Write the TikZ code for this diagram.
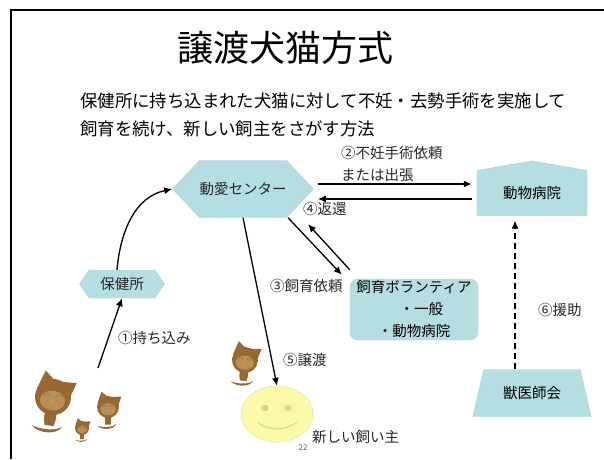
\documentclass[tikz,border=0pt]{standalone}
\usepackage{fontspec}
\setmainfont{Noto Sans CJK JP}
\usetikzlibrary{arrows.meta,positioning,shapes.geometric,shapes.symbols}

\definecolor{boxteal}{RGB}{181,222,227}
\definecolor{catbrown}{RGB}{152,104,50}
\definecolor{catface}{RGB}{186,142,86}
\definecolor{smileyellow}{RGB}{250,250,168}

\newcommand{\lbl}{\fontsize{14.5}{22}\selectfont}

\tikzset{
  cat/.pic={
    % tail, body, ears, head, face
    \fill[catbrown] (-0.95,-1.72) .. controls (-0.5,-2.15) and (0.55,-2.05) .. (0.75,-1.55)
      .. controls (0.45,-1.85) and (-0.4,-1.9) .. cycle;
    \fill[catbrown] (-0.3,-0.75) -- (0.3,-0.75) .. controls (0.35,-1.2) .. (0.25,-1.6) -- (-0.25,-1.6) .. controls (-0.35,-1.2) .. cycle;
    \fill[catbrown] (-0.95,0.35) -- (-0.6,1.4) -- (-0.05,0.95) -- cycle;
    \fill[catbrown] (0.35,0.9) -- (1.2,0.95) -- (0.95,0.15) -- cycle;
    \fill[catbrown] (0,0) circle (1);
    \fill[catface] (0,-0.2) ellipse (0.7 and 0.55);
    \draw[black!55,line width=0.5pt] (-0.55,0.0) arc (170:10:0.2);
    \draw[black!55,line width=0.5pt] (0.15,0.0) arc (170:10:0.2);
    \fill[orange!60!yellow] (0,-0.25) circle (0.06);
  }
}

\begin{document}
\begin{tikzpicture}[
  x=1pt, y=1pt,
  label/.style={font=\lbl, text=black!85, inner sep=0pt, anchor=west},
  station/.style={
    signal,
    signal to=west and east,
    fill=boxteal,
    draw=boxteal!85!gray,
    text=black!85,
    font=\lbl,
    inner sep=0pt
  },
  line/.style={-{Latex[length=8pt,width=7pt]}, line width=1.3pt}
]
\useasboundingbox (0,0) rectangle (604,459);

% frame
\draw[line width=1.6pt] (11,0) -- (11,449) -- (604,449);

% title and description
\node[font=\fontsize{36}{40}\selectfont, inner sep=0pt] (title) at (285,411) {譲渡犬猫方式};
\node[font=\fontsize{17.4}{28}\selectfont, align=left, anchor=north west, inner sep=0pt] (desc) at (80,366)
{保健所に持ち込まれた犬猫に対して不妊・去勢手術を実施して\\飼育を続け、新しい飼主をさがす方法};

% main blocks
\node[station, signal pointer angle=93, minimum width=137pt, minimum height=57pt] (center) at (243,270) {動愛センター};
\node[station, signal pointer angle=111, minimum width=85pt, minimum height=28pt] (hoken) at (122,175) {保健所};
\node[signal, signal to=north, signal pointer angle=160, fill=boxteal, draw=boxteal!85!gray,
  minimum width=110pt, minimum height=50pt, font=\lbl, inner sep=0pt] (hosp) at (532,266) {動物病院};
\node[draw=boxteal!85!gray, fill=boxteal, rounded corners=8pt, minimum width=128pt, minimum height=61pt,
  font=\lbl, align=center, inner sep=0pt] (vol) at (414,149.5)
{飼育ボランティア\\\hspace*{1em}・一般\\・動物病院};
\node[trapezium, trapezium angle=64, trapezium stretches=true, fill=boxteal, draw=boxteal!85!gray,
  minimum width=119pt, minimum height=47pt, font=\lbl, inner sep=0pt] (vet) at (532,66) {獣医師会};

% new owner
\node[ellipse, fill=smileyellow, draw=yellow!60!gray!60, minimum width=72pt, minimum height=56pt] (owner) at (277,45) {};
\fill[yellow!55!gray!70] ([shift={(-12,6)}]owner.center) ellipse (4 and 3.2);
\fill[yellow!55!gray!70] ([shift={(11,6)}]owner.center) ellipse (4 and 3.2);
\draw[yellow!45!gray!80, line width=0.7pt] ([shift={(-19,-9)}]owner.center) .. controls ([shift={(-6,-17)}]owner.center) and ([shift={(8,-17)}]owner.center) .. ([shift={(20,-8)}]owner.center);

% cats
\pic[scale=18, rotate=-8] at (53,62) {cat};
\pic[scale=11] at (108,52) {cat};
\pic[scale=7] at (82,31) {cat};
\pic[scale=13, rotate=-5] at (245,99) {cat};
\coordinate (litter) at (98,91);

% arrows
\draw[line] (litter) -- (hoken.south);
\draw[line] ([xshift=-5pt]hoken.north) to[out=85, in=192] (center.west);
\path (center.east) ++(4,5) coordinate (req);
\path (center.east) ++(4,-10) coordinate (ret);
\draw[line, shorten >=5pt] (req) -- (req -| hosp.west);
\draw[line, shorten <=5pt] (ret -| hosp.west) -- (ret);
\draw[line] ([xshift=45pt]center.south) -- ([shift={(-8,4)}]vol.north west);
\draw[line] ([yshift=9pt]vol.north west) -- ([shift={(65,-6.5)}]center.south);
\draw[line] (center.south) -- (owner.north);
\draw[line, dashed, dash pattern=on 6pt off 4pt, shorten >=5pt] ([xshift=-17pt]vet.north) -- ([xshift=-17pt]vet.north |- hosp.south);

% labels
\node[label, align=left] (lreq) at (341,295) {②不妊手術依頼\\または出張};
\node[label] (lret) at (303,250) {④返還};
\node[label] (lask) at (270,173) {③飼育依頼};
\node[label] (lbring) at (118,121) {①持ち込み};
\node[label] (lgive) at (283,99) {⑤譲渡};
\node[label] (lhelp) at (538,149) {⑥援助};
\node[label] (lowner) at (312,22) {新しい飼い主};
\node[font=\fontsize{8}{9}\selectfont, text=black!60, inner sep=0pt] (page) at (303,11) {22};
\end{tikzpicture}
\end{document}
